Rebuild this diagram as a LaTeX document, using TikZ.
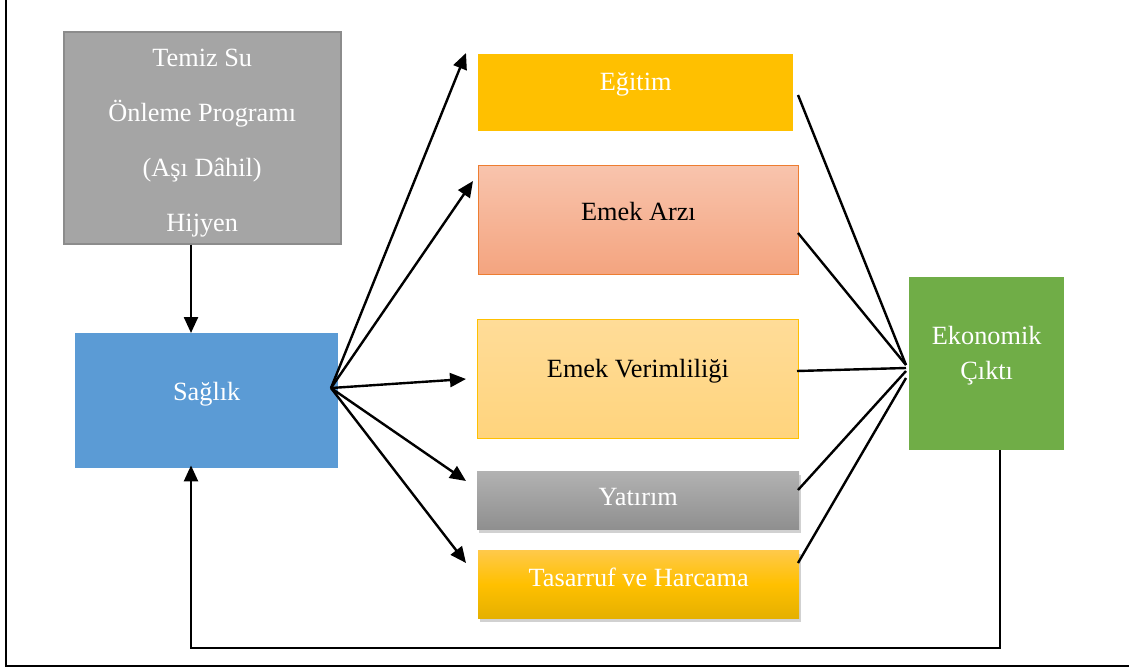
\documentclass[tikz,border=0pt]{standalone}
\usepackage{fontspec}
\setmainfont{Liberation Serif}
\usetikzlibrary{arrows.meta,shadows,calc}
\definecolor{grayfill}{HTML}{A5A5A5}
\definecolor{graydraw}{HTML}{8C8C8C}
\definecolor{blue1}{HTML}{5B9BD5}
\definecolor{gold}{HTML}{FFC000}
\definecolor{salmonT}{HTML}{F8C4AD}
\definecolor{salmonB}{HTML}{F4A47F}
\definecolor{orangeD}{HTML}{ED7D31}
\definecolor{lightT}{HTML}{FFDC98}
\definecolor{lightB}{HTML}{FFD47D}
\definecolor{grayT}{HTML}{B2B2B2}
\definecolor{grayB}{HTML}{8F8F8F}
\definecolor{goldT}{HTML}{FFC94A}
\definecolor{goldB}{HTML}{E5B000}
\definecolor{green1}{HTML}{70AD47}
\begin{document}
\begin{tikzpicture}[x=1pt,y=-1pt,
  every node/.style={font=\fontsize{26.3}{30}\selectfont},
  box/.style={rectangle, inner sep=0pt, anchor=north west},
  lbl/.style={inner sep=0pt},
  conn/.style={line width=2.4pt, -{Triangle[length=16pt,width=14pt]}},
  plainline/.style={line width=2.4pt},
  shad/.style={drop shadow={shadow xshift=1.5pt, shadow yshift=-4pt, opacity=0.18, fill=black}}
]
\useasboundingbox (0,0) rectangle (1129,667);
\draw[line width=2.6pt] (6,0) -- (6,666) -- (1129,666);

\node[box, fill=grayfill, draw=graydraw, line width=1.5pt, minimum width=277pt, minimum height=212pt,
  label={[lbl, white, align=center, font=\fontsize{26.3}{55}\selectfont, yshift=-5pt]center:{Temiz Su\\Önleme Programı\\(Aşı Dâhil)\\Hijyen}}] (temiz) at (63,31) {};

\node[box, fill=blue1, minimum width=263pt, minimum height=135pt,
  label={[lbl, white, yshift=6pt]center:Sağlık}] (saglik) at (75,333) {};

\node[box, fill=gold, minimum width=315pt, minimum height=77pt,
  label={[lbl, white, yshift=8pt]center:Eğitim}] (egitim) at (478,54) {};

\node[box, top color=salmonT, bottom color=salmonB, draw=orangeD, line width=0.8pt, minimum width=320pt, minimum height=109pt,
  label={[lbl, black, yshift=8pt]center:Emek Arzı}] (arzi) at (478,165) {};

\node[box, top color=lightT, bottom color=lightB, draw=gold, line width=0.8pt, minimum width=321pt, minimum height=119pt,
  label={[lbl, black, yshift=8pt]center:Emek Verimliliği}] (verim) at (477,319) {};

\node[box, shad, top color=grayT, bottom color=grayB, minimum width=322pt, minimum height=58pt,
  label={[lbl, white, yshift=3pt]center:Yatırım}] (yatirim) at (477,471) {};

\node[box, shad, top color=goldT, bottom color=goldB, middle color=gold, minimum width=321pt, minimum height=68pt,
  label={[lbl, white, yshift=7pt]center:Tasarruf ve Harcama}] (tasarruf) at (478,550) {};

\node[box, fill=green1, minimum width=155pt, minimum height=173pt,
  label={[lbl, white, align=center, font=\fontsize{26.3}{35}\selectfont, yshift=8pt]center:{Ekonomik\\Çıktı}}] (ekon) at (909,277) {};

% coordinates
\coordinate (hx) at (191,0);
\coordinate (hub) at (331,388);
\coordinate (tEg) at (466,53);
\coordinate (tAr) at (473,181);
\coordinate (tVe) at (466,379);
\coordinate (tYa) at (466,481);
\coordinate (tTa) at (466,563);
\coordinate (sEg) at (798,95);
\coordinate (sAr) at (798,233);
\coordinate (sVe) at (797,371);
\coordinate (sYa) at (798,490);
\coordinate (sTa) at (798,563);
\coordinate (cA) at (906,365);
\coordinate (cB) at (906,368);
\coordinate (cC) at (906,371);
\coordinate (cD) at (906,378);
\coordinate (fx) at (1000,648);

\draw[conn] (temiz.south -| hx) -- (saglik.north -| hx);
\draw[conn] (hub) -- (tEg);
\draw[conn] (hub) -- (tAr);
\draw[conn] (hub) -- (tVe);
\draw[conn] (hub) -- (tYa);
\draw[conn] (hub) -- (tTa);

\draw[plainline] (sEg) -- (cA);
\draw[plainline] (sAr) -- (cA);
\draw[plainline] (sVe) -- (cB);
\draw[plainline] (sYa) -- (cC);
\draw[plainline] (sTa) -- (cD);

\draw[conn, shorten >=-3pt] (ekon.south -| fx) -- (fx) -| (saglik.south -| hx);
\end{tikzpicture}
\end{document}
